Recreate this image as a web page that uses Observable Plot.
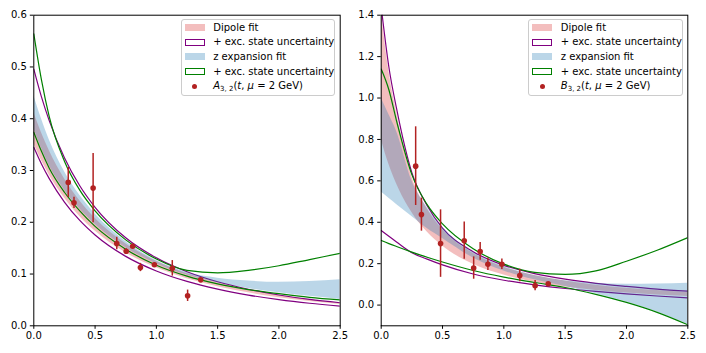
<!DOCTYPE html>
<html><head><meta charset="utf-8">
<script src="https://cdn.jsdelivr.net/npm/d3@7"></script>
<script src="https://cdn.jsdelivr.net/npm/@observablehq/plot@0.6"></script>
<style>
body{margin:0;background:#fff;}
#wrap{position:relative;width:706px;height:353px;font-family:"DejaVu Sans",sans-serif;overflow:hidden;}
.panel{position:absolute;top:0;}
.legend{position:absolute;box-sizing:border-box;border:1px solid #cccccc;border-radius:3px;background:rgba(255,255,255,0.85);font-size:10px;color:#000;}
.row{position:absolute;left:0;height:14px;line-height:14px;white-space:nowrap;}
.sw{position:absolute;box-sizing:border-box;width:20px;height:7px;top:3.5px;left:3px;}
.txt{position:absolute;top:0;}
.txt sub{font-size:7px;vertical-align:-2px;line-height:0;}
</style>
</head><body>
<div id="wrap"></div>
<script>
// ---- grid of t values (GeV^2) at which the fit bands were read ----
const tGrid = [0, 0.0625, 0.125, 0.25, 0.375, 0.5, 0.75, 1, 1.25, 1.5, 1.75, 2, 2.25, 2.5];

// ---- left panel: A_{3,2} ----
const dipLoA    = [0.351, 0.3195, 0.292, 0.2468, 0.2113, 0.1829, 0.141, 0.112, 0.0911, 0.0755, 0.0637, 0.0544, 0.047, 0.041];
const dipHiA    = [0.412, 0.373, 0.3392, 0.2841, 0.2414, 0.2077, 0.1584, 0.1248, 0.1008, 0.0832, 0.0698, 0.059, 0.0505, 0.0435];
const dipExcLoA = [0.345, 0.3127, 0.2848, 0.2391, 0.2035, 0.1754, 0.1341, 0.1059, 0.0857, 0.0708, 0.0594, 0.0506, 0.0436, 0.038];
const dipExcHiA = [0.496, 0.4423, 0.3969, 0.3248, 0.2706, 0.229, 0.1701, 0.1313, 0.1044, 0.085, 0.0706, 0.0595, 0.0509, 0.0445];
const zLoA      = [0.38, 0.343, 0.31, 0.262, 0.226, 0.196, 0.151, 0.12, 0.098, 0.083, 0.072, 0.064, 0.057, 0.051];
const zHiA      = [0.445, 0.40, 0.36, 0.298, 0.252, 0.216, 0.163, 0.126, 0.103, 0.092, 0.0865, 0.084, 0.0855, 0.089];
const zExcLoA   = [0.374, 0.337, 0.305, 0.258, 0.222, 0.192, 0.148, 0.117, 0.096, 0.081, 0.07, 0.062, 0.055, 0.050];
const zExcHiA   = [0.564, 0.475, 0.405, 0.318, 0.262, 0.222, 0.166, 0.129, 0.107, 0.1022, 0.107, 0.116, 0.128, 0.140];

// ---- right panel: B_{3,2} ----
const dipLoB    = [0.80, 0.680, 0.5857, 0.4472, 0.3526, 0.2851, 0.1975, 0.1449, 0.1108, 0.0874, 0.0708, 0.0584, 0.0491, 0.0418];
const dipHiB    = [1.42, 1.13, 0.93, 0.62, 0.465, 0.365, 0.25, 0.183, 0.143, 0.116, 0.096, 0.081, 0.07, 0.061];
const dipExcLoB = [0.36, 0.332, 0.305, 0.253, 0.222, 0.194, 0.15, 0.12, 0.098, 0.08, 0.066, 0.054, 0.044, 0.035];
const dipExcHiB = [1.44, 1.15, 0.95, 0.64, 0.48, 0.372, 0.258, 0.192, 0.152, 0.125, 0.105, 0.09, 0.077, 0.067];
const zLoB      = [0.546, 0.516, 0.486, 0.428, 0.37, 0.322, 0.228, 0.165, 0.122, 0.09, 0.055, 0.015, -0.033, -0.092];
const zHiB      = [1.0, 0.92, 0.84, 0.60, 0.47, 0.375, 0.255, 0.186, 0.143, 0.118, 0.106, 0.101, 0.102, 0.106];
const zExcLoB   = [0.312, 0.297, 0.283, 0.256, 0.231, 0.208, 0.167, 0.135, 0.109, 0.085, 0.052, 0.013, -0.035, -0.095];
const zExcHiB   = [1.14, 1.04, 0.89, 0.63, 0.485, 0.392, 0.272, 0.198, 0.158, 0.148, 0.165, 0.212, 0.265, 0.326];

// ---- lattice data points ----
const tData = [0.281, 0.328, 0.484, 0.677, 0.754, 0.807, 0.87, 0.984, 1.13, 1.255, 1.362];
const valA  = [0.277, 0.2375, 0.266, 0.159, 0.144, 0.1537, 0.1126, 0.118, 0.111, 0.058, 0.0888];
const errA  = [0.029, 0.011, 0.067, 0.012, 0.005, 0.004, 0.008, 0.004, 0.015, 0.011, 0.003];
const valB  = [0.671, 0.437, 0.297, 0.311, 0.179, 0.259, 0.197, 0.197, 0.143, 0.094, 0.103];
const errB  = [0.19, 0.08, 0.163, 0.09, 0.054, 0.043, 0.03, 0.025, 0.03, 0.025, 0.006];

// ---- ticks and labels ----
const xTicks  = [0, 0.5, 1, 1.5, 2, 2.5];
const yTicksA = [0, 0.1, 0.2, 0.3, 0.4, 0.5, 0.6];
const yTicksB = [0, 0.2, 0.4, 0.6, 0.8, 1.0, 1.2, 1.4];
const legendLabels = ["Dipole fit", "+ exc. state uncertainty", "z expansion fit", "+ exc. state uncertainty"];
const dataLabelA = '<i>A</i><sub>3, 2</sub>(<i>t</i>, <i>μ</i> = 2 GeV)';
const dataLabelB = '<i>B</i><sub>3, 2</sub>(<i>t</i>, <i>μ</i> = 2 GeV)';

const RED = "#d62728", BLUE = "#1f77b4", PURPLE = "#800080", GREEN = "#008000", PT = "#b22222";

function band(lo, hi) { return tGrid.map((t, i) => ({t, lo: lo[i], hi: hi[i]})); }
function line(a) { return tGrid.map((t, i) => ({t, v: a[i]})); }

function panel(o) {
  const pts = tData.map((t, i) => ({t, v: o.val[i], e: o.err[i]}));
  const curve = "monotone-x";
  return Plot.plot({
    width: 353, height: 353,
    marginLeft: o.ml, marginRight: o.mr, marginTop: 14.7, marginBottom: 27.7,
    x: {domain: [0, 2.5]},
    y: {domain: o.yDomain},
    style: {fontSize: "10px", fontFamily: "DejaVu Sans, sans-serif", color: "black", background: "transparent"},
    marks: [
      Plot.areaY(band(o.dipLo, o.dipHi), {x: "t", y1: "lo", y2: "hi", fill: RED, fillOpacity: 0.3, curve, clip: true}),
      Plot.lineY(line(o.dipExcLo), {x: "t", y: "v", stroke: PURPLE, strokeWidth: 1.2, curve, clip: true}),
      Plot.lineY(line(o.dipExcHi), {x: "t", y: "v", stroke: PURPLE, strokeWidth: 1.2, curve, clip: true}),
      Plot.areaY(band(o.zLo, o.zHi), {x: "t", y1: "lo", y2: "hi", fill: BLUE, fillOpacity: 0.3, curve, clip: true}),
      Plot.lineY(line(o.zExcLo), {x: "t", y: "v", stroke: GREEN, strokeWidth: 1.2, curve, clip: true}),
      Plot.lineY(line(o.zExcHi), {x: "t", y: "v", stroke: GREEN, strokeWidth: 1.2, curve, clip: true}),
      Plot.ruleX(pts, {x: "t", y1: d => d.v - d.e, y2: d => d.v + d.e, stroke: PT, strokeWidth: 1.5}),
      Plot.dot(pts, {x: "t", y: "v", fill: PT, r: 2.8}),
      Plot.frame({stroke: "black", strokeWidth: 1}),
      Plot.axisX({ticks: xTicks, tickFormat: d3.format(".1f"), tickSize: 3.5, tickPadding: 2.5, label: null}),
      Plot.axisY({ticks: o.yTicks, tickFormat: d3.format(".1f"), tickSize: 3.5, tickPadding: 3.5, label: null})
    ]
  });
}

function legend(left, dataLabel) {
  const lg = document.createElement("div");
  lg.className = "legend";
  Object.assign(lg.style, {left: left + "px", top: "19.3px", width: "154.3px", height: "76.4px"});
  const swatches = [
    {background: "rgba(214,39,40,0.3)"},
    {background: "#fff", border: "1.3px solid " + PURPLE},
    {background: "rgba(31,119,180,0.3)"},
    {background: "#fff", border: "1.3px solid " + GREEN}
  ];
  const centers = [7.4, 22.1, 36.7, 51.4, 66.0];
  legendLabels.concat([dataLabel]).forEach((lab, i) => {
    const r = document.createElement("div");
    r.className = "row";
    r.style.top = (centers[i] - 7) + "px";
    const sw = document.createElement("div");
    sw.className = "sw";
    if (i < 4) Object.assign(sw.style, swatches[i]);
    else {
      Object.assign(sw.style, {width: "5.4px", height: "5.4px", borderRadius: "50%", background: PT, left: "10.3px", top: "4.3px"});
    }
    r.appendChild(sw);
    const tx = document.createElement("div");
    tx.className = "txt";
    tx.style.left = "31.5px";
    tx.innerHTML = lab;
    r.appendChild(tx);
    lg.appendChild(r);
  });
  return lg;
}

const wrap = document.getElementById("wrap");
const pA = panel({ml: 33.3, mr: 13.3, yDomain: [0, 0.6], yTicks: yTicksA,
  dipLo: dipLoA, dipHi: dipHiA, dipExcLo: dipExcLoA, dipExcHi: dipExcHiA,
  zLo: zLoA, zHi: zHiA, zExcLo: zExcLoA, zExcHi: zExcHiA, val: valA, err: errA});
pA.classList.add("panel"); pA.style.left = "0px";
const pB = panel({ml: 27.7, mr: 18.7, yDomain: [-0.1, 1.4], yTicks: yTicksB,
  dipLo: dipLoB, dipHi: dipHiB, dipExcLo: dipExcLoB, dipExcHi: dipExcHiB,
  zLo: zLoB, zHi: zHiB, zExcLo: zExcLoB, zExcHi: zExcHiB, val: valB, err: errB});
pB.classList.add("panel"); pB.style.left = "353px";
wrap.appendChild(pA);
wrap.appendChild(pB);
wrap.appendChild(legend(180.7, dataLabelA));
wrap.appendChild(legend(528.3, dataLabelB));
</script>
</body></html>
